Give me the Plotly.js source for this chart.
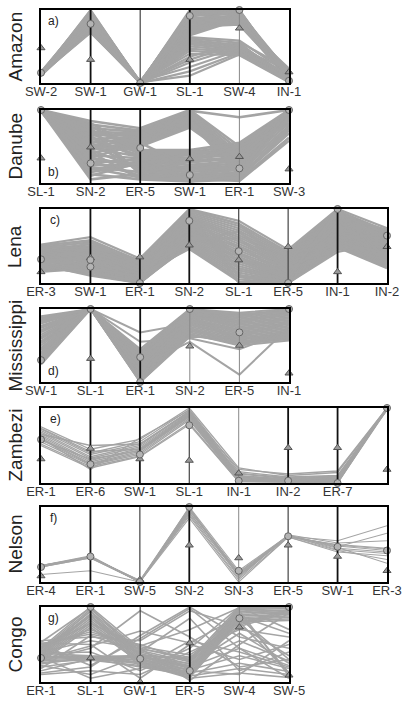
<!DOCTYPE html>
<html>
<head>
<meta charset="utf-8">
<script src="https://cdn.plot.ly/plotly-3.0.1.min.js"></script>
<style>html,body{margin:0;padding:0;background:#fff;}#chart{width:403px;height:701px;}</style>
</head>
<body>
<div id="chart"></div>
<script>
// ---------- DATA (values normalised 0 = bottom of panel, 1 = top) ----------
const amazonLabels = ['SW-2','SW-1','GW-1','SL-1','SW-4','IN-1'];
const amazonLines = [
 [0.12,1.00,0.00,1.00,1.00,0.04],[0.13,0.99,0.01,0.97,0.98,0.10],[0.11,0.98,0.00,0.95,0.96,0.02],
 [0.14,0.97,0.02,0.93,0.94,0.15],[0.12,0.96,0.00,0.91,0.99,0.06],[0.10,0.95,0.01,0.89,0.92,0.01],
 [0.15,0.94,0.00,0.87,0.90,0.12],[0.13,0.93,0.02,0.85,0.88,0.08],[0.12,0.92,0.00,0.83,0.86,0.18],
 [0.11,0.91,0.01,0.81,0.84,0.03],[0.14,0.90,0.00,0.79,0.82,0.11],[0.12,0.89,0.02,0.77,0.80,0.05],
 [0.13,0.88,0.00,0.75,0.97,0.14],[0.10,0.87,0.01,0.73,0.95,0.02],[0.12,0.86,0.00,0.71,0.93,0.09],
 [0.14,0.85,0.02,0.69,0.91,0.16],[0.11,0.84,0.00,0.67,0.89,0.04],[0.13,0.83,0.01,0.65,0.87,0.07],
 [0.12,0.82,0.00,0.63,0.58,0.13],[0.15,0.81,0.02,0.61,0.55,0.03],[0.12,0.80,0.00,0.59,0.52,0.10],
 [0.13,0.79,0.01,0.57,0.50,0.06],[0.11,0.78,0.00,0.55,0.48,0.17],[0.14,0.77,0.02,0.53,0.46,0.02],
 [0.12,0.76,0.00,0.50,0.44,0.08],[0.13,0.75,0.01,0.47,0.42,0.12],[0.10,0.74,0.00,0.44,0.40,0.05],
 [0.12,0.73,0.02,0.40,0.38,0.01],[0.14,0.72,0.00,0.36,0.56,0.19],[0.11,0.71,0.01,0.32,0.53,0.07],
 [0.13,0.70,0.00,0.28,0.49,0.03],[0.12,0.69,0.02,0.22,0.45,0.11],[0.15,0.96,0.00,0.16,0.41,0.05],
 [0.12,0.92,0.01,0.10,0.39,0.02],[0.13,0.88,0.00,0.98,0.85,0.14],[0.11,0.84,0.02,0.90,0.79,0.09],
 [0.12,0.80,0.00,0.84,1.00,0.06],[0.14,0.76,0.01,0.96,0.83,0.20]
];
const amazonCircles   = [0.14,0.81,0.00,0.92,1.00,0.03];
const amazonTriangles = [0.48,0.32,0.00,0.32,0.75,0.15];

const danubeLabels = ['SL-1','SN-2','ER-5','SW-1','ER-1','SW-3'];
const danubeLines = [
 [1.00,0.85,0.75,1.00,0.50,1.00],[0.99,0.80,0.72,0.98,0.45,0.99],[1.00,0.75,0.70,0.96,0.40,1.00],
 [0.98,0.70,0.68,0.94,0.35,0.97],[1.00,0.65,0.66,0.92,0.30,1.00],[0.99,0.60,0.64,0.90,0.25,0.95],
 [1.00,0.55,0.62,0.88,0.20,1.00],[0.98,0.50,0.60,0.86,0.15,0.93],[1.00,0.45,0.58,0.84,0.10,0.98],
 [0.99,0.40,0.56,0.82,0.42,0.90],[1.00,0.35,0.54,0.80,0.38,1.00],[0.98,0.72,0.52,0.78,0.32,0.96],
 [1.00,0.62,0.50,0.76,0.28,0.99],[0.99,0.52,0.48,0.99,0.90,1.00],
 [1.00,0.82,0.45,0.45,0.55,1.00],[0.99,0.78,0.42,0.42,0.52,0.98],[1.00,0.68,0.40,0.40,0.48,0.94],
 [0.98,0.58,0.38,0.38,0.46,1.00],[1.00,0.48,0.36,0.35,0.44,0.91],[0.99,0.38,0.34,0.33,0.40,0.97],
 [1.00,0.28,0.32,0.30,0.36,0.88],[0.98,0.18,0.30,0.28,0.34,1.00],[1.00,0.10,0.28,0.25,0.30,0.85],
 [0.99,0.15,0.26,0.22,0.27,0.92],[1.00,0.25,0.24,0.20,0.24,0.82],[0.98,0.35,0.22,0.18,0.22,1.00],
 [1.00,0.45,0.20,0.15,0.20,0.78],[0.99,0.55,0.18,0.12,0.18,0.95],[1.00,0.65,0.15,0.10,0.15,0.75],
 [0.98,0.75,0.12,0.08,0.12,1.00],[1.00,0.30,0.10,0.05,0.10,0.72],[0.99,0.20,0.08,0.03,0.08,0.68],
 [1.00,0.12,0.05,0.02,0.05,0.62],[0.98,0.42,0.06,0.06,0.03,0.58],[1.00,0.50,0.45,0.10,0.06,0.99],
 [0.99,0.33,0.25,0.40,0.25,0.96],[1.00,0.22,0.15,0.44,0.38,0.89],[0.98,0.62,0.35,0.02,0.14,0.99],
 [1.00,0.70,0.55,0.22,0.32,0.86],[0.99,0.05,0.12,0.30,0.50,0.80]
];
const danubeCircles   = [1.00,0.27,0.48,0.11,0.20,1.00];
const danubeTriangles = [0.34,0.49,null,0.33,0.36,0.19];

const lenaLabels = ['ER-3','SW-1','ER-1','SN-2','SL-1','ER-5','IN-1','IN-2'];
const lenaLines = [
 [0.52,0.62,0.33,1.00,0.84,0.45,1.00,0.74],[0.50,0.58,0.30,0.98,0.80,0.42,0.98,0.70],
 [0.48,0.55,0.28,0.96,0.77,0.40,0.96,0.68],[0.46,0.52,0.26,0.94,0.74,0.38,0.94,0.66],
 [0.44,0.50,0.24,0.92,0.71,0.36,0.92,0.64],[0.42,0.48,0.22,0.90,0.68,0.34,0.90,0.62],
 [0.40,0.46,0.20,0.88,0.65,0.32,0.88,0.60],[0.38,0.44,0.18,0.86,0.62,0.30,0.86,0.58],
 [0.36,0.42,0.16,0.84,0.59,0.28,0.84,0.56],[0.34,0.40,0.14,0.82,0.56,0.26,0.82,0.54],
 [0.32,0.38,0.12,0.80,0.53,0.24,0.80,0.52],[0.30,0.36,0.10,0.78,0.50,0.22,0.78,0.50],
 [0.28,0.34,0.08,0.76,0.47,0.20,0.76,0.48],[0.26,0.32,0.06,0.74,0.44,0.18,0.74,0.46],
 [0.24,0.30,0.05,0.72,0.41,0.16,0.72,0.44],[0.22,0.28,0.04,0.70,0.38,0.14,0.70,0.42],
 [0.20,0.26,0.03,0.68,0.35,0.12,0.68,0.40],[0.18,0.24,0.02,0.66,0.32,0.10,0.66,0.38],
 [0.16,0.22,0.01,0.64,0.29,0.08,0.64,0.36],[0.15,0.20,0.00,0.62,0.26,0.06,0.62,0.34],
 [0.17,0.18,0.00,0.60,0.23,0.05,0.60,0.32],[0.19,0.16,0.00,0.58,0.20,0.04,0.58,0.30],
 [0.21,0.14,0.00,0.56,0.17,0.03,0.56,0.28],[0.23,0.12,0.00,0.54,0.14,0.02,0.54,0.26],
 [0.25,0.10,0.00,0.52,0.11,0.01,0.52,0.24],[0.27,0.15,0.02,0.50,0.08,0.00,0.50,0.22],
 [0.29,0.25,0.07,0.48,0.05,0.00,0.48,0.20],[0.31,0.35,0.11,0.46,0.02,0.00,0.45,0.45],
 [0.33,0.45,0.15,0.97,0.00,0.00,0.42,0.55],[0.35,0.55,0.19,0.91,0.10,0.02,0.97,0.65],
 [0.37,0.29,0.23,0.85,0.20,0.04,0.91,0.72],[0.39,0.39,0.27,0.79,0.30,0.06,0.85,0.35],
 [0.41,0.49,0.31,0.73,0.40,0.08,0.79,0.28],[0.43,0.19,0.09,0.67,0.50,0.10,0.73,0.58],
 [0.45,0.27,0.13,0.61,0.60,0.13,0.67,0.50],[0.47,0.37,0.17,0.55,0.70,0.16,0.61,0.66],
 [0.49,0.47,0.21,0.99,0.80,0.19,0.55,0.40],[0.51,0.57,0.25,0.93,0.35,0.07,0.99,0.31]
];
const lenaCircles   = [0.32,0.31,0.00,0.84,0.43,0.00,1.00,0.64];
const lenaCircles2  = [null,0.22,null,null,null,null,null,null];
const lenaTriangles = [0.15,0.34,0.35,0.51,0.31,0.49,0.15,0.49];

const mississippiLabels = ['SW-1','SL-1','ER-1','SN-2','ER-5','IN-1'];
const mississippiLines = [
 [0.90,1.00,0.45,1.00,0.95,1.00],[0.88,1.00,0.42,0.99,0.92,0.99],[0.86,1.00,0.40,0.98,0.90,0.97],
 [0.84,1.00,0.38,0.97,0.88,0.95],[0.82,1.00,0.36,0.96,0.86,0.93],[0.80,1.00,0.34,0.95,0.84,0.91],
 [0.77,1.00,0.32,0.94,0.82,0.89],[0.74,1.00,0.30,0.93,0.80,0.87],[0.71,1.00,0.28,0.92,0.78,0.85],
 [0.68,1.00,0.26,0.91,0.76,0.83],[0.65,1.00,0.24,0.90,0.74,0.81],[0.62,1.00,0.22,0.88,0.72,0.79],
 [0.59,1.00,0.20,0.86,0.70,0.77],[0.56,1.00,0.18,0.84,0.68,0.75],[0.53,1.00,0.16,0.82,0.66,0.73],
 [0.50,1.00,0.14,0.80,0.64,0.71],[0.47,1.00,0.12,0.78,0.62,0.69],[0.44,1.00,0.10,0.76,0.60,0.67],
 [0.41,1.00,0.08,0.74,0.58,0.65],[0.38,1.00,0.06,0.72,0.56,0.63],[0.35,1.00,0.04,0.70,0.54,0.61],
 [0.32,1.00,0.02,0.68,0.52,0.59],[0.29,1.00,0.01,0.66,0.50,0.57],[0.26,1.00,0.00,0.64,0.53,0.60],
 [0.24,1.00,0.00,0.62,0.60,0.64],[0.60,1.00,0.68,0.80,0.62,0.82],[0.75,1.00,0.55,0.60,0.45,0.70],
 [0.45,1.00,0.22,0.55,0.10,0.75],[0.70,1.00,0.05,0.99,0.90,0.98],[0.55,1.00,0.30,0.97,0.93,0.96],
 [0.35,1.00,0.40,0.92,0.55,0.62],[0.85,1.00,0.15,0.89,0.83,0.94],[0.40,1.00,0.35,0.83,0.71,0.88]
];
const mississippiCircles   = [0.30,1.00,0.34,1.00,0.68,1.00];
const mississippiCircles2  = [null,null,0.00,null,null,null];
const mississippiTriangles = [null,0.32,null,0.49,0.50,0.12];

const zambeziLabels = ['ER-1','ER-6','SW-1','SL-1','IN-1','IN-2','ER-7','SW-3'];
const zambeziLines = [
 [0.75,0.45,0.58,1.00,0.20,0.10,0.14,1.00],[0.72,0.40,0.55,0.98,0.15,0.08,0.10,1.00],
 [0.70,0.38,0.52,0.96,0.12,0.06,0.08,0.99],[0.68,0.35,0.50,0.95,0.10,0.05,0.06,1.00],
 [0.66,0.33,0.48,0.93,0.08,0.04,0.05,0.98],[0.64,0.30,0.46,0.92,0.06,0.03,0.04,1.00],
 [0.62,0.28,0.44,0.90,0.05,0.03,0.03,0.99],[0.60,0.26,0.42,0.88,0.04,0.02,0.02,1.00],
 [0.58,0.25,0.40,0.86,0.03,0.02,0.01,1.00],[0.55,0.24,0.38,0.84,0.03,0.01,0.00,0.98],
 [0.52,0.22,0.36,0.80,0.02,0.01,0.00,1.00],[0.50,0.20,0.35,0.78,0.02,0.02,0.01,0.99],
 [0.65,0.50,0.52,0.94,0.18,0.12,0.16,1.00],[0.60,0.18,0.60,0.97,0.07,0.04,0.03,1.00],
 [0.73,0.42,0.45,0.91,0.13,0.07,0.09,0.97],[0.57,0.32,0.43,0.89,0.09,0.05,0.07,1.00]
];
const zambeziCircles   = [0.58,0.25,0.38,0.77,0.03,0.03,0.00,1.00];
const zambeziTriangles = [0.32,0.46,0.32,0.30,0.13,0.47,0.47,0.18];

const nelsonLabels = ['ER-4','ER-1','SW-5','SN-2','SN-3','ER-5','SW-1','ER-3'];
const nelsonLines = [
 [0.22,0.34,0.00,1.00,0.15,0.62,0.48,0.42],[0.21,0.33,0.01,0.98,0.12,0.61,0.45,0.40],
 [0.20,0.32,0.00,0.96,0.10,0.60,0.50,0.45],[0.22,0.33,0.02,0.93,0.08,0.62,0.43,0.38],
 [0.21,0.34,0.00,0.90,0.05,0.63,0.52,0.55],[0.20,0.32,0.01,0.88,0.03,0.60,0.40,0.35],
 [0.22,0.35,0.00,0.95,0.13,0.62,0.47,0.65],[0.21,0.33,0.02,0.99,0.07,0.61,0.55,0.75],
 [0.10,0.15,0.00,0.85,0.00,0.60,0.42,0.30],[0.20,0.34,0.01,0.97,0.11,0.62,0.46,0.25],
 [0.22,0.33,0.00,0.92,0.09,0.61,0.49,0.44]
];
const nelsonCircles   = [0.20,0.34,0.00,1.00,0.15,0.61,0.47,0.42];
const nelsonTriangles = [0.08,null,0.03,0.49,0.32,0.49,0.34,0.15];

const congoLabels = ['ER-1','SL-1','GW-1','ER-5','SW-4','SW-5'];
const congoLines = [
 [0.45,1.00,0.45,0.30,1.00,1.00],[0.43,0.97,0.42,0.27,0.98,0.99],[0.41,0.94,0.40,0.24,0.96,0.98],
 [0.39,0.91,0.38,0.21,0.94,0.96],[0.37,0.88,0.36,0.18,0.92,0.94],[0.35,0.85,0.34,0.15,0.90,0.92],
 [0.33,0.82,0.32,0.12,0.88,0.90],[0.31,0.79,0.30,0.10,0.86,0.88],[0.29,0.76,0.28,0.08,0.84,0.86],
 [0.27,0.73,0.26,0.06,0.82,0.84],[0.47,0.70,0.44,0.33,0.80,0.82],[0.49,0.67,0.47,0.36,0.78,0.97],
 [0.51,0.64,0.50,0.28,0.76,0.95],[0.53,0.99,0.35,0.20,0.74,0.93],[0.40,0.95,0.25,0.14,0.99,1.00],
 [0.36,0.90,0.20,0.09,0.97,0.91],
 [0.34,0.34,0.32,0.25,0.55,0.28],[0.32,0.33,0.30,0.20,0.45,0.22],[0.30,0.32,0.29,0.16,0.35,0.18],
 [0.28,0.31,0.27,0.12,0.25,0.14],[0.26,0.30,0.26,0.08,0.18,0.10],[0.24,0.33,0.24,0.05,0.12,0.06],
 [0.38,0.35,0.34,0.22,0.65,0.25],[0.42,0.32,0.36,0.30,0.85,0.30],[0.20,0.29,0.22,0.10,0.90,0.12],
 [0.15,0.31,0.20,0.18,0.95,0.08],
 [0.55,0.60,0.55,0.95,0.75,0.35],[0.12,0.20,0.62,1.00,0.60,0.45],[0.10,0.15,0.10,0.40,0.70,0.60],
 [0.52,0.50,0.05,0.50,0.30,0.50],[0.28,0.45,0.95,0.60,0.20,0.30],[0.40,0.55,0.45,0.02,0.50,0.92],
 [0.38,0.40,0.15,0.45,1.00,0.70],[0.44,0.88,0.36,0.15,0.10,0.55],[0.22,0.10,0.35,0.32,0.80,0.12],
 [0.46,0.78,0.48,0.70,0.99,1.00],[0.33,0.05,0.18,0.55,0.40,0.20],[0.50,0.22,0.58,0.98,0.45,0.05],
 [0.18,0.62,0.40,0.85,0.15,0.40],[0.30,0.48,0.68,0.52,0.88,0.65]
];
const congoCircles   = [0.32,1.00,0.31,0.15,0.85,1.00];
const congoTriangles = [null,0.32,0.00,0.52,0.73,0.09];

// ---------- LAYOUT CONFIG (pixel positions, styles) ----------
const W = 403, H = 701;
const panels = [
 {name:'Amazon', tag:'a)', tagTop:true, labels:amazonLabels, lines:amazonLines, circles:[amazonCircles], tris:amazonTriangles, top:10, bot:83, right:289, lw:2.2, styles:['k','k','d','k','g','k']},
 {name:'Danube', tag:'b)', tagTop:false, labels:danubeLabels, lines:danubeLines, circles:[danubeCircles], tris:danubeTriangles, top:110, bot:183, right:289, lw:2.6, styles:['k','k','k','k','g','k']},
 {name:'Lena', tag:'c)', tagTop:true, labels:lenaLabels, lines:lenaLines, circles:[lenaCircles,lenaCircles2], tris:lenaTriangles, top:209, bot:283, right:387, lw:2.2, styles:['k','k','k','k','d','d','k','k']},
 {name:'Mississippi', tag:'d)', tagTop:false, labels:mississippiLabels, lines:mississippiLines, circles:[mississippiCircles,mississippiCircles2], tris:mississippiTriangles, top:309, bot:382, right:289, lw:2.0, styles:['k','k','k','g','g','k']},
 {name:'Zambezi', tag:'e)', tagTop:true, labels:zambeziLabels, lines:zambeziLines, circles:[zambeziCircles], tris:zambeziTriangles, top:408, bot:483, right:387, lw:1.3, styles:['k','k','k','d','g','k','k','k']},
 {name:'Nelson', tag:'f)', tagTop:true, labels:nelsonLabels, lines:nelsonLines, circles:[nelsonCircles], tris:nelsonTriangles, top:507, bot:582, right:387, lw:1.1, styles:['k','k','d','k','g','d','k','k']},
 {name:'Congo', tag:'g)', tagTop:true, labels:congoLabels, lines:congoLines, circles:[congoCircles], tris:congoTriangles, top:607, bot:682, right:289, lw:1.6, styles:['k','k','d','k','g','k']}
];
const LEFT = 41;
const styleMap = {k:{color:'#111',width:1.8}, d:{color:'#444',width:1.2}, g:{color:'#888',width:1}};
const FONT = 'Liberation Sans, Arial, sans-serif';

const traces = [];
const layout = {
  width:W, height:H, margin:{l:0,r:0,t:0,b:0}, paper_bgcolor:'#fff', plot_bgcolor:'#fff',
  showlegend:false, annotations:[], font:{family:FONT}
};

panels.forEach((p,k)=>{
  const n = p.labels.length;
  const xa = 'x'+(k+1), ya = 'y'+(k+1);
  layout['xaxis'+(k+1)] = {domain:[LEFT/W, p.right/W], range:[0,n-1], anchor:ya,
    tickmode:'array', tickvals:p.labels.map((_,i)=>i), ticktext:p.labels,
    showgrid:false, zeroline:false, showline:true, mirror:true, linecolor:'#000', linewidth:2,
    ticks:'', ticklen:0, ticklabelstandoff:-5, tickfont:{size:13,color:'#333',family:FONT}, fixedrange:true};
  layout['yaxis'+(k+1)] = {domain:[1-p.bot/H, 1-p.top/H], range:[0,1], anchor:xa,
    showticklabels:false, showgrid:false, zeroline:false, showline:true, mirror:true,
    linecolor:'#000', linewidth:2, ticks:'', fixedrange:true};
  const lx=[], ly=[];
  p.lines.forEach(row=>{ row.forEach((v,i)=>{lx.push(i); ly.push(v);}); lx.push(null); ly.push(null); });
  traces.push({type:'scatter', mode:'lines', x:lx, y:ly, xaxis:xa, yaxis:ya,
    line:{color:'#a4a4a4', width:p.lw}, hoverinfo:'skip', connectgaps:false});
  ['g','d','k'].forEach(s=>{
    const ax=[], ay=[];
    p.styles.forEach((st,i)=>{ if(st===s && i>0 && i<n-1){ ax.push(i,i,null); ay.push(0,1,null);} });
    if(ax.length) traces.push({type:'scatter', mode:'lines', x:ax, y:ay, xaxis:xa, yaxis:ya,
      line:{color:styleMap[s].color, width:styleMap[s].width}, hoverinfo:'skip'});
  });
  const tx=[], ty=[];
  p.tris.forEach((v,i)=>{ if(v!==null){tx.push(i); ty.push(v);} });
  traces.push({type:'scatter', mode:'markers', x:tx, y:ty, xaxis:xa, yaxis:ya, cliponaxis:false,
    marker:{symbol:'triangle-up', size:7, color:'#9a9a9a', line:{color:'#555', width:1}}, hoverinfo:'skip'});
  p.circles.forEach(arr=>{
    const cx=[], cy=[];
    arr.forEach((v,i)=>{ if(v!==null){cx.push(i); cy.push(v);} });
    traces.push({type:'scatter', mode:'markers', x:cx, y:cy, xaxis:xa, yaxis:ya, cliponaxis:false,
      marker:{symbol:'circle', size:7, color:'#b4b4b4', line:{color:'#666', width:1}}, hoverinfo:'skip'});
  });
  layout.annotations.push({xref:xa+' domain', yref:ya+' domain', x:0.02, y:p.tagTop?0.97:0.03,
    xanchor:'left', yanchor:p.tagTop?'top':'bottom', text:p.tag, showarrow:false,
    font:{size:12,color:'#222',family:FONT}});
  layout.annotations.push({xref:'paper', yref:'paper', x:15/W, y:1-((p.top+p.bot)/2)/H,
    xanchor:'center', yanchor:'middle', textangle:-90, text:p.name, showarrow:false,
    font:{size:19,color:'#222',family:FONT}});
});

Plotly.newPlot('chart', traces, layout, {staticPlot:true, displayModeBar:false});
</script>
</body>
</html>
